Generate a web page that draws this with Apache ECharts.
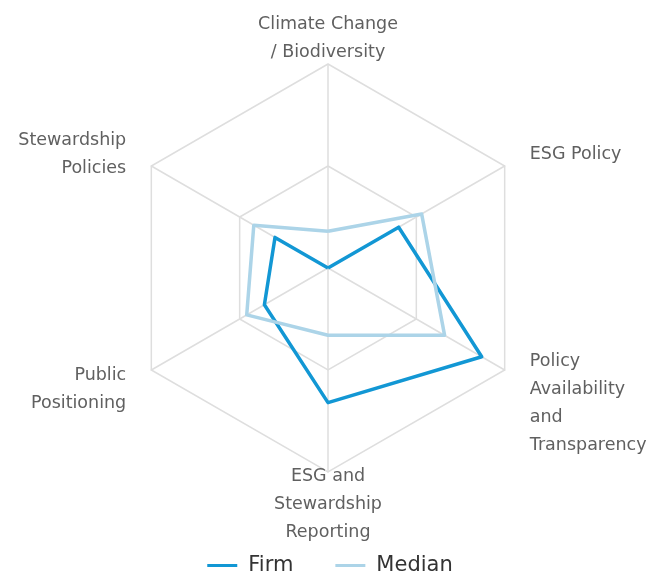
<!DOCTYPE html>
<html>
<head>
<meta charset="utf-8">
<script src="https://cdn.jsdelivr.net/npm/echarts@6/dist/echarts.min.js"></script>
<style>
  html, body { margin: 0; padding: 0; background: #fff; }
  #radarChart { width: 660px; height: 572px; }
</style>
</head>
<body>
<div id="radarChart"></div>
<script>
// indicators listed counter-clockwise from the top (echarts radar order)
const categories = [
  'Climate Change\n/ Biodiversity',
  'Stewardship\nPolicies',
  'Public\nPositioning',
  'ESG and\nStewardship\nReporting',
  'Policy\nAvailability\nand\nTransparency',
  'ESG Policy'
]
const maxValue = 100
const firmValues = [0, 30, 36, 66, 87, 40]
const medianValues = [18, 42, 46, 33, 66, 53]
const seriesNames = ['Firm', 'Median']

const color = ['#1297d4', '#acd4e8']
const charts = echarts.init(document.getElementById('radarChart'))

const option = {
  animation: false,
  color: color,
  legend: {
    top: 550,
    left: 'center',
    icon: 'rect',
    itemWidth: 30,
    itemHeight: 3,
    itemGap: 42,
    textStyle: {
      fontFamily: 'DejaVu Sans',
      fontSize: 21,
      color: '#333',
      padding: [0, 0, 0, 6]
    },
    data: seriesNames
  },
  radar: {
    center: [328, 268],
    radius: 204,
    shape: 'polygon',
    splitNumber: 2,
    startAngle: 90,
    nameGap: 29,
    axisName: {
      color: '#606060',
      fontFamily: 'DejaVu Sans',
      fontSize: 17.5,
      lineHeight: 28,
      verticalAlign: 'middle',
      padding: [6, 0, 0, 0],
      formatter: function (name) {
        // small nudges so the long labels sit like the original
        if (name.indexOf('Policy\nAvailability') === 0) return '{sp31|}\n' + name
        if (name.indexOf('Public') === 0) return '{sp3|}\n' + name
        return name
      },
      rich: {
        sp31: { height: 31, lineHeight: 31 },
        sp3: { height: 3, lineHeight: 3 }
      }
    },
    splitArea: { show: false },
    splitLine: {
      lineStyle: { color: '#dedede', width: 1.5 }
    },
    axisLine: {
      lineStyle: { color: '#dedede', width: 1.5 }
    },
    indicator: categories.map(function (c) {
      return { name: c, max: maxValue, min: 0 }
    })
  },
  series: [{
    type: 'radar',
    symbol: 'none',
    data: [
      {
        name: seriesNames[0],
        value: firmValues,
        lineStyle: { width: 3.5, color: color[0] },
        itemStyle: { color: color[0] }
      },
      {
        name: seriesNames[1],
        value: medianValues,
        lineStyle: { width: 3.5, color: color[1] },
        itemStyle: { color: color[1] }
      }
    ]
  }]
}

charts.clear()
charts.setOption(option)
</script>
</body>
</html>
